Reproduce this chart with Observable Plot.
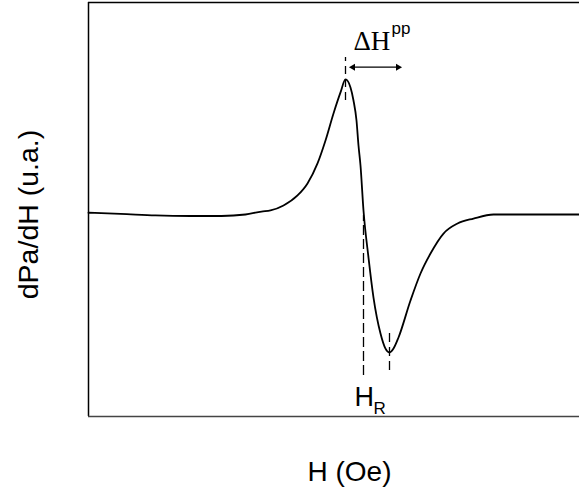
<!DOCTYPE html>
<html>
<head>
<meta charset="utf-8">
<script src="https://cdn.jsdelivr.net/npm/d3@7"></script>
<script src="https://cdn.jsdelivr.net/npm/@observablehq/plot@0.6"></script>
<style>
  html, body { margin: 0; padding: 0; background: #fff; }
  #chart { width: 579px; height: 489px; overflow: hidden; }
</style>
</head>
<body>
<div id="chart"></div>
<script>
// Field values (Oe, arbitrary offset) and derivative signal (arbitrary units)
const fieldH = [0, 320, 670, 1020, 1330, 1570, 1730, 1820, 1950, 2090, 2190, 2290, 2370, 2450, 2520, 2570, 2620, 2650, 2680, 2700, 2720, 2750, 2800, 2850, 2920, 2970, 3010, 3050, 3100, 3220, 3320, 3420, 3550, 3690, 3850, 4050, 4910];
const signal = [0.013, 0.005, -0.007, -0.011, -0.011, 0, 0.022, 0.030, 0.067, 0.141, 0.230, 0.378, 0.548, 0.748, 0.904, 1.000, 0.941, 0.844, 0.696, 0.511, 0.363, 0.030, -0.319, -0.615, -0.881, -0.993, -1.022, -0.993, -0.911, -0.637, -0.437, -0.289, -0.141, -0.067, -0.030, 0, 0];

// Annotation values
const Hpeak = 2570;   // maximum of derivative
const Hmin = 3010;    // minimum of derivative
const Hres = 2750;    // resonance field H_R
const arrowFrom = 2610;
const arrowTo = 3130;
const arrowLevel = 1.091;
const xDomain = [0, 4910];
const yDomain = [-1.496, 1.570];
const xLabel = "H (Oe)";
const yLabel = "dPa/dH (u.a.)";

const curve = fieldH.map((h, i) => ({H: h, s: signal[i]}));
const heads = [
  {x: arrowFrom + 35, y: arrowLevel, r: -90},
  {x: arrowTo - 35, y: arrowLevel, r: 90}
];

const sans = "Liberation Sans, Arial, sans-serif";
const serif = "Liberation Serif, Times New Roman, serif";

const chart = Plot.plot({
  width: 579,
  height: 489,
  marginLeft: 88,
  marginRight: 0,
  marginTop: 2,
  marginBottom: 73,
  x: {domain: xDomain, axis: null},
  y: {domain: yDomain, axis: null},
  style: {fontFamily: sans, background: "#fff"},
  marks: [
    // frame: left, top, bottom (right edge off canvas)
    Plot.ruleX([xDomain[0]], {stroke: "#000", strokeWidth: 1.5}),
    Plot.ruleY([yDomain[1]], {stroke: "#000", strokeWidth: 1.5}),
    Plot.ruleY([yDomain[0]], {stroke: "#444", strokeWidth: 1.5}),
    // signal
    Plot.line(curve, {x: "H", y: "s", curve: "monotone-x", stroke: "#000", strokeWidth: 1.8}),
    // markers
    Plot.ruleX([Hpeak], {y1: 0.844, y2: 1.163, stroke: "#000", strokeWidth: 1.3, strokeDasharray: "8,5"}),
    Plot.ruleX([Hmin], {y1: -1.156, y2: -0.844, stroke: "#000", strokeWidth: 1.3, strokeDasharray: "9,5"}),
    Plot.ruleX([Hres], {y1: -1.193, y2: -0.007, stroke: "#000", strokeWidth: 1.3, strokeDasharray: "10,4"}),
    // ΔHpp double arrow
    Plot.ruleY([arrowLevel], {x1: arrowFrom + 30, x2: arrowTo - 30, stroke: "#000", strokeWidth: 1.3}),
    Plot.dot(heads, {x: "x", y: "y", rotate: "r", symbol: "triangle", r: 2.6, fill: "#000", stroke: "none"}),
    Plot.text(["ΔH"], {x: 2650, y: 1.215, text: d => d, textAnchor: "start", lineAnchor: "bottom", fontSize: 27, fontFamily: serif, fill: "#000"}),
    Plot.text(["pp"], {x: 3030, y: 1.336, text: d => d, textAnchor: "start", lineAnchor: "bottom", fontSize: 17, fill: "#000"}),
    // H_R label
    Plot.text(["H"], {x: 2660, y: -1.415, text: d => d, textAnchor: "start", lineAnchor: "bottom", fontSize: 27, fill: "#000"}),
    Plot.text(["R"], {x: 2850, y: -1.474, text: d => d, textAnchor: "start", lineAnchor: "bottom", fontSize: 17, fill: "#000"}),
    // axis labels
    Plot.text([xLabel], {x: 2610, y: -1.970, text: d => d, textAnchor: "middle", lineAnchor: "bottom", fontSize: 28, fill: "#000"}),
    Plot.text([yLabel], {x: -600, y: 0, text: d => d, rotate: -90, textAnchor: "middle", lineAnchor: "middle", fontSize: 28.5, fill: "#000"})
  ]
});
document.getElementById("chart").appendChild(chart);
</script>
</body>
</html>
